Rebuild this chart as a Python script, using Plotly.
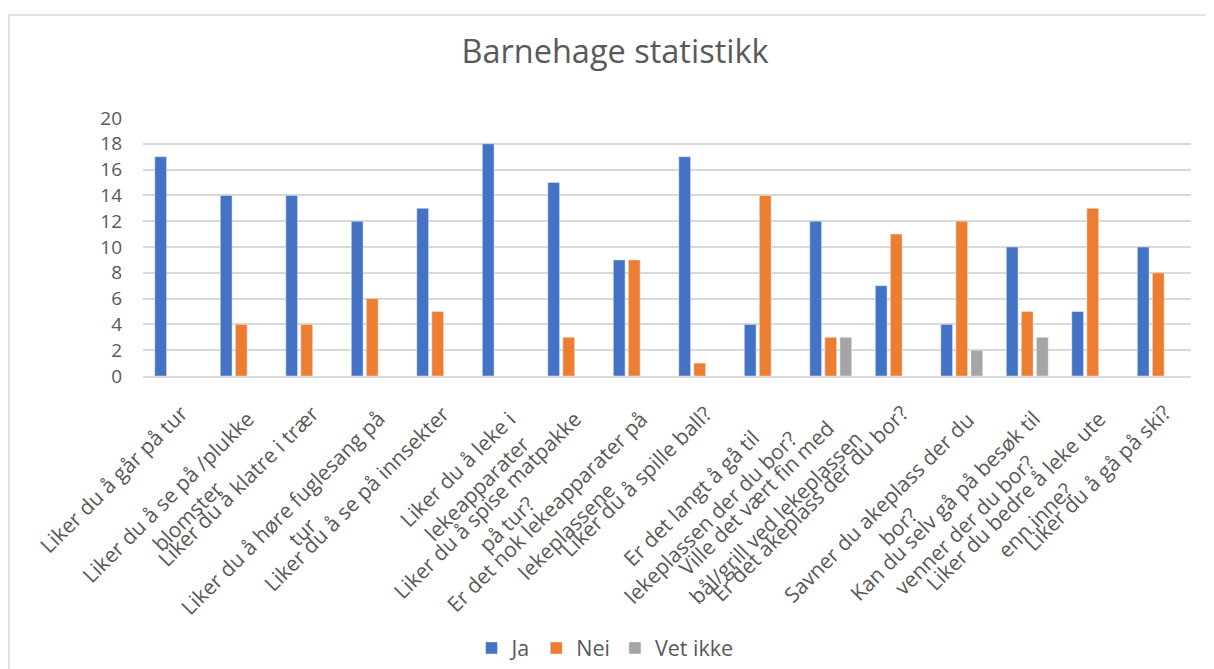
import plotly.graph_objects as go

categories = [
    "Liker du å går på tur",
    "Liker du å se på /plukke<br>blomster",
    "Liker du å klatre i trær",
    "Liker du å høre fuglesang på<br>tur",
    "Liker du å se på innsekter",
    "Liker du å leke i<br>lekeapparater",
    "Liker du å spise matpakke<br>på tur?",
    "Er det nok lekeapparater på<br>lekeplassene",
    "Liker du å spille ball?",
    "Er det langt å gå til<br>lekeplassen der du bor?",
    "Ville det vært fin med<br>bål/grill ved lekeplassen",
    "Er det akeplass der du bor?",
    "Savner du akeplass der du<br>bor?",
    "Kan du selv gå på besøk til<br>venner der du bor?",
    "Liker du bedre å leke ute<br>enn inne?",
    "Liker du å gå på ski?",
]
ja = [17, 14, 14, 12, 13, 18, 15, 9, 17, 4, 12, 7, 4, 10, 5, 10]
nei = [None, 4, 4, 6, 5, None, 3, 9, 1, 14, 3, 11, 12, 5, 13, 8]
vet_ikke = [None, None, None, None, None, None, None, None, None, None, 3, None, 2, 3, None, None]
y_ticks = [0, 2, 4, 6, 8, 10, 12, 14, 16, 18, 20]

FONT = "Open Sans"
GREY = "#595959"
GRID = "#d9d9d9"
LABEL_SIZE = 21

# page has an 8px body margin; work in figure pixels
W, H = 1206, 661
L, R, T, B = 135, 23, 110, 293
pw, ph = W - L - R, H - T - B


def px_x(p):
    return (p - L) / pw


def px_y(p):
    return (H - B - p) / ph


fig = go.Figure()
fig.add_trace(go.Bar(name="Ja", x=categories, y=ja, marker_color="#4472C4"))
fig.add_trace(go.Bar(name="Nei", x=categories, y=nei, marker_color="#ED7D31"))
fig.add_trace(go.Bar(name="Vet ikke", x=categories, y=vet_ikke, marker_color="#A5A5A5"))

annotations = []
for cat in categories:
    n = cat.count("<br>") + 1
    h = n * LABEL_SIZE * 1.3
    annotations.append(dict(
        x=cat, y=0, xref="x", yref="y", text=cat, showarrow=False,
        textangle=-45, align="center", xanchor="right", yanchor="top",
        xshift=0.707 * h, yshift=-(22 if n == 1 else 28), borderpad=0,
        font=dict(size=LABEL_SIZE, color=GREY, family=FONT),
    ))

fig.update_layout(
    width=W, height=H,
    margin=dict(l=L, r=R, t=T, b=B, autoexpand=False),
    paper_bgcolor="white", plot_bgcolor="white",
    font=dict(family=FONT, color=GREY),
    title=dict(text="Barnehage statistikk", x=(615 - 8) / W, xref="container", xanchor="center",
               y=1 - 44 / H, yanchor="middle", font=dict(size=32.5, color=GREY, family=FONT)),
    barmode="group", bargap=0.31, bargroupgap=0.22,
    showlegend=True,
    legend=dict(orientation="h", xref="container", x=(605 - 8) / W, xanchor="center",
                yref="container", y=(H - 640) / H, yanchor="middle",
                font=dict(size=21.5, color=GREY, family=FONT), itemwidth=30),
    annotations=annotations,
    shapes=[dict(type="rect", xref="paper", yref="paper",
                 x0=px_x(1), x1=px_x(1205), y0=px_y(720), y1=px_y(7),
                 line=dict(color=GRID, width=1.5), fillcolor="rgba(0,0,0,0)", layer="below")],
)
fig.update_xaxes(range=[-0.5, len(categories) - 0.5], autorange=False,
                 showticklabels=False, showline=True, linecolor=GRID, linewidth=1.5,
                 showgrid=False, ticks="", automargin=False)
fig.update_yaxes(range=[0, 20], tickvals=y_ticks, showgrid=True, gridcolor=GRID, gridwidth=1.5,
                 zeroline=False, tickfont=dict(size=19, color=GREY, family=FONT),
                 ticklabelstandoff=20, automargin=False)

fig.write_html("out.html")
